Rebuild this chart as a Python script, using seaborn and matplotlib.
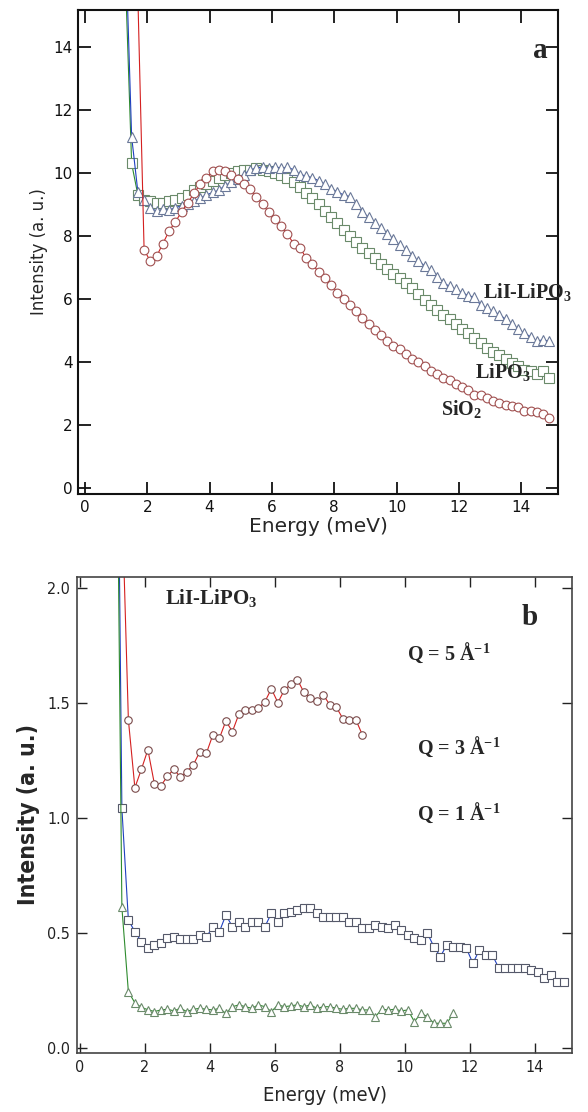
import matplotlib
matplotlib.use('Agg')
import numpy as np
import pandas as pd
import matplotlib.pyplot as plt
import matplotlib.font_manager as fm
import seaborn as sns

# ---- panel a data (energy in meV, intensity in a.u.) ----
energy_a = [1.3, 1.5, 1.7, 1.9, 2.1, 2.3, 2.5, 2.7, 2.9, 3.1, 3.3, 3.5, 3.7, 3.9,
            4.1, 4.3, 4.5, 4.7, 4.9, 5.1, 5.3, 5.5, 5.7, 5.9, 6.1, 6.3, 6.5, 6.7,
            6.9, 7.1, 7.3, 7.5, 7.7, 7.9, 8.1, 8.3, 8.5, 8.7, 8.9, 9.1, 9.3, 9.5,
            9.7, 9.9, 10.1, 10.3, 10.5, 10.7, 10.9, 11.1, 11.3, 11.5, 11.7, 11.9,
            12.1, 12.3, 12.5, 12.7, 12.9, 13.1, 13.3, 13.5, 13.7, 13.9, 14.1, 14.3,
            14.5, 14.7, 14.9]
lii_lipo3 = [17.5, 11.15, 9.4, 9.15, 8.9, 8.78, 8.85, 8.82, 8.9, 8.95, 9.0, 9.1, 9.2,
             9.3, 9.38, 9.45, 9.6, 9.7, 9.8, 9.95, 10.1, 10.15, 10.2, 10.15, 10.2,
             10.15, 10.18, 10.1, 9.95, 9.9, 9.85, 9.75, 9.65, 9.5, 9.4, 9.3, 9.25,
             9.0, 8.75, 8.6, 8.4, 8.25, 8.05, 7.9, 7.7, 7.55, 7.35, 7.2, 7.05, 6.9,
             6.7, 6.5, 6.4, 6.3, 6.2, 6.1, 6.05, 5.8, 5.7, 5.6, 5.5, 5.35, 5.2, 5.05,
             4.9, 4.8, 4.65, 4.7, 4.65]
lipo3 = [16.2, 10.3, 9.3, 9.15, 9.1, 9.05, 9.05, 9.1, 9.15, 9.2, 9.3, 9.45, 9.55,
         9.65, 9.75, 9.85, 9.95, 10.0, 10.05, 10.1, 10.1, 10.15, 10.1, 10.05, 10.0,
         9.95, 9.85, 9.7, 9.55, 9.35, 9.2, 9.0, 8.8, 8.6, 8.4, 8.2, 8.0, 7.8, 7.6,
         7.45, 7.3, 7.1, 6.95, 6.8, 6.65, 6.5, 6.35, 6.15, 5.95, 5.8, 5.65, 5.5,
         5.35, 5.2, 5.05, 4.9, 4.75, 4.6, 4.45, 4.3, 4.2, 4.1, 3.95, 3.85, 3.75,
         3.7, 3.6, 3.7, 3.5]
sio2 = [15.6, 7.55, 7.2, 7.35, 7.75, 8.15, 8.45, 8.75, 9.05, 9.35, 9.65, 9.85,
        10.05, 10.1, 10.05, 9.95, 9.8, 9.65, 9.5, 9.25, 9.0, 8.75, 8.55, 8.3, 8.05,
        7.75, 7.62, 7.3, 7.1, 6.85, 6.65, 6.45, 6.2, 6.0, 5.8, 5.6, 5.4, 5.2, 5.0,
        4.85, 4.65, 4.5, 4.4, 4.25, 4.1, 4.0, 3.85, 3.72, 3.6, 3.5, 3.42, 3.3, 3.2,
        3.1, 2.95, 2.95, 2.85, 2.75, 2.7, 2.62, 2.58, 2.55, 2.45, 2.42, 2.4, 2.35,
        2.2]

# ---- panel b data (LiI-LiPO3 at three Q values) ----
energy_b = [1.1, 1.3, 1.5, 1.7, 1.9, 2.1, 2.3, 2.5, 2.7, 2.9, 3.1, 3.3, 3.5, 3.7,
            3.9, 4.1, 4.3, 4.5, 4.7, 4.9, 5.1, 5.3, 5.5, 5.7, 5.9, 6.1, 6.3, 6.5,
            6.7, 6.9, 7.1, 7.3, 7.5, 7.7, 7.9, 8.1, 8.3, 8.5, 8.7, 8.9, 9.1, 9.3,
            9.5, 9.7, 9.9, 10.1, 10.3, 10.5, 10.7, 10.9, 11.1, 11.3, 11.5, 11.7,
            11.9, 12.1, 12.3, 12.5, 12.7, 12.9, 13.1, 13.3, 13.5, 13.7, 13.9, 14.1,
            14.3, 14.5, 14.7, 14.9]
q5 = [2.4, 1.425, 1.13, 1.21, 1.295, 1.147, 1.138, 1.18, 1.21, 1.176, 1.2, 1.23,
      1.287, 1.28, 1.36, 1.345, 1.42, 1.374, 1.45, 1.47, 1.468, 1.475, 1.504, 1.56,
      1.5, 1.555, 1.58, 1.6, 1.545, 1.52, 1.505, 1.533, 1.49, 1.48, 1.43, 1.425,
      1.425, 1.36]
q3 = [3.8, 1.04, 0.555, 0.504, 0.461, 0.432, 0.447, 0.454, 0.476, 0.483, 0.471,
      0.471, 0.471, 0.49, 0.483, 0.523, 0.504, 0.577, 0.526, 0.548, 0.526, 0.548,
      0.548, 0.526, 0.584, 0.548, 0.584, 0.591, 0.599, 0.606, 0.606, 0.584, 0.57,
      0.57, 0.57, 0.57, 0.548, 0.548, 0.519, 0.519, 0.533, 0.526, 0.519, 0.533,
      0.512, 0.49, 0.476, 0.468, 0.497, 0.439, 0.396, 0.447, 0.439, 0.439, 0.432,
      0.367, 0.425, 0.403, 0.403, 0.345, 0.345, 0.345, 0.345, 0.345, 0.338, 0.33,
      0.302, 0.316, 0.287, 0.287]
q1 = [3.4, 0.61, 0.243, 0.195, 0.175, 0.165, 0.157, 0.164, 0.167, 0.16, 0.171,
      0.157, 0.167, 0.171, 0.167, 0.164, 0.171, 0.149, 0.178, 0.186, 0.178, 0.171,
      0.186, 0.178, 0.157, 0.186, 0.178, 0.182, 0.186, 0.178, 0.186, 0.171, 0.178,
      0.178, 0.171, 0.167, 0.171, 0.171, 0.164, 0.164, 0.135, 0.167, 0.164, 0.167,
      0.16, 0.164, 0.113, 0.149, 0.135, 0.106, 0.106, 0.106, 0.149]

sns.set_style('ticks')
plt.rcParams['font.family'] = ['DejaVu Sans']
plt.rcParams['mathtext.default'] = 'regular'

# narrow sans for panel b if one is installed
fonts = fm.fontManager.ttflist
if any(f.name == 'Liberation Sans Narrow' for f in fonts):
    narrow = dict(family='Liberation Sans Narrow')
elif any(f.name == 'DejaVu Sans' and f.stretch == 'condensed' for f in fonts):
    narrow = dict(family='DejaVu Sans', stretch='condensed')
else:
    narrow = dict(family='Liberation Sans')
serif = {'family': 'Liberation Serif', 'weight': 'bold'}

fig = plt.figure(figsize=(5.88, 11.12), dpi=100)
ax1 = fig.add_axes([0.1327, 0.5558, 0.8163, 0.4353])
ax2 = fig.add_axes([0.131, 0.0531, 0.8418, 0.428])


def curve(ax, x, y, line, edge, marker, ms):
    sns.lineplot(x=x, y=y, ax=ax, color=line, linewidth=0.8, marker=marker,
                 markersize=ms, markerfacecolor='white', markeredgecolor=edge,
                 markeredgewidth=0.8, errorbar=None)


# panel a
curve(ax1, energy_a, lipo3, '#2e8b2e', '#6a8a6a', 's', 6.5)
curve(ax1, energy_a, lii_lipo3, '#2040c0', '#6a7898', '^', 7)
curve(ax1, energy_a[2:], sio2, '#d42020', '#a05050', 'o', 6.3)

ax1.set_xlim(-0.22, 15.18)
ax1.set_ylim(-0.2, 15.18)
ax1.set_xticks(range(0, 15, 2))
ax1.set_yticks(range(0, 15, 2))
ax1.tick_params(direction='in', length=9, width=1.3, top=True, right=True,
                labelsize=11, pad=4, colors='#111111')
for s in ax1.spines.values():
    s.set_linewidth(1.5)
    s.set_color('#111111')
ax1.set_xlabel('Energy (meV)', fontsize=14.5, labelpad=2)
ax1.set_ylabel('Intensity (a. u.)', fontsize=12, labelpad=4)

ax1.text(14.6, 13.9, 'a', ha='center', va='center', fontsize=21, **serif)
ax1.text(12.78, 6.23, 'LiI-LiPO$_3$', ha='left', va='center', fontsize=14.5, **serif)
ax1.text(12.52, 3.66, 'LiPO$_3$', ha='left', va='center', fontsize=14.5, **serif)
ax1.text(11.43, 2.49, 'SiO$_2$', ha='left', va='center', fontsize=14.5, **serif)

# panel b
curve(ax2, energy_b, q3, '#2040c0', '#55596a', 's', 5.6)
curve(ax2, energy_b[:53], q1, '#2e8b2e', '#6a8a6a', '^', 5.6)
curve(ax2, energy_b[1:39], q5, '#d42020', '#7a4a4a', 'o', 5.4)

ax2.set_xlim(-0.08, 15.15)
ax2.set_ylim(-0.023, 2.046)
ax2.set_xticks(range(0, 15, 2))
ax2.set_yticks([0, 0.5, 1.0, 1.5, 2.0])
ax2.set_yticklabels(['0.0', '0.5', '1.0', '1.5', '2.0'])
ax2.tick_params(direction='in', length=7, width=1.0, top=True, right=True,
                labelsize=11.5, pad=5, colors='#222222')
for lab in ax2.get_xticklabels() + ax2.get_yticklabels():
    lab.update(narrow)
for s in ax2.spines.values():
    s.set_linewidth(1.2)
    s.set_color('#444444')
ax2.set_xlabel('Energy (meV)', fontsize=14.5, labelpad=8, **narrow)
ax2.set_ylabel('Intensity (a. u.)', fontsize=16.5, weight='bold', labelpad=5,
               **narrow)

ax2.text(2.63, 1.955, 'LiI-LiPO$_3$', ha='left', va='center', fontsize=15, **serif)
ax2.text(13.85, 1.868, 'b', ha='center', va='center', fontsize=21, **serif)
ax2.text(10.08, 1.716, 'Q = 5 Å$^{-1}$', ha='left', va='center', fontsize=14.5, **serif)
ax2.text(10.39, 1.308, 'Q = 3 Å$^{-1}$', ha='left', va='center', fontsize=14.5, **serif)
ax2.text(10.39, 1.02, 'Q = 1 Å$^{-1}$', ha='left', va='center', fontsize=14.5, **serif)

fig.savefig('out.png', dpi=100)
